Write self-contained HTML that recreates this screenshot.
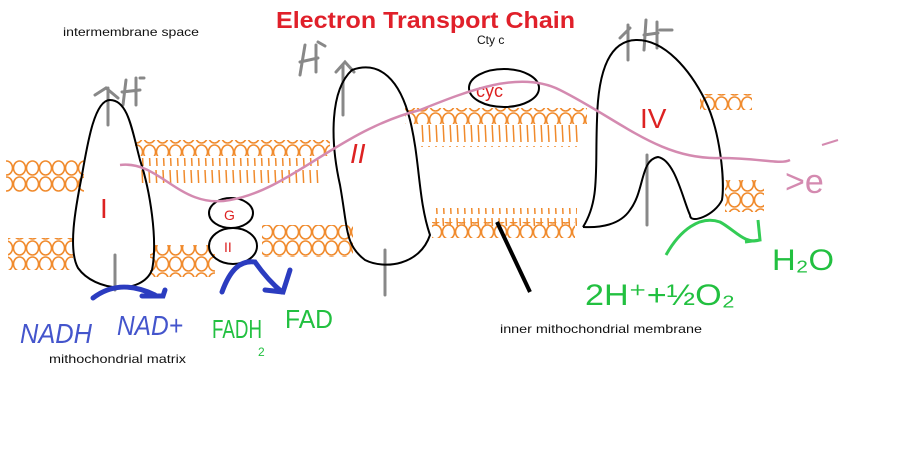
<!DOCTYPE html>
<html><head><meta charset="utf-8"><style>
html,body{margin:0;padding:0;background:#fff;}
svg{display:block;}
</style></head><body>
<svg width="902" height="460" viewBox="0 0 902 460" xmlns="http://www.w3.org/2000/svg">
<defs>
<pattern id="bead" x="0" y="0" width="13" height="16" patternUnits="userSpaceOnUse">
<ellipse cx="6.5" cy="8" rx="6" ry="7" fill="none" stroke="#f08a2c" stroke-width="1.6"/>
</pattern>
<pattern id="tail" x="0" y="0" width="7" height="24" patternUnits="userSpaceOnUse">
<path d="M2 2 L3 22" stroke="#f08a2c" stroke-width="1.5"/>
</pattern>
</defs>
<rect width="902" height="460" fill="#fff"/>

<text x="276" y="28" font-family="Liberation Sans, sans-serif" font-weight="bold" font-size="23" fill="#e0202a" textLength="299" lengthAdjust="spacingAndGlyphs">Electron Transport Chain</text>
<text x="63" y="36" font-family="Liberation Sans, sans-serif" font-size="12" fill="#111" textLength="136" lengthAdjust="spacingAndGlyphs">intermembrane space</text>
<text x="477" y="44" font-family="Liberation Sans, sans-serif" font-size="12" fill="#111">Cty c</text>
<text x="500" y="333" font-family="Liberation Sans, sans-serif" font-size="12" fill="#111" textLength="202" lengthAdjust="spacingAndGlyphs">inner mithochondrial membrane</text>
<text x="49" y="363" font-family="Liberation Sans, sans-serif" font-size="12" fill="#111" textLength="137" lengthAdjust="spacingAndGlyphs">mithochondrial matrix</text>

<rect x="6" y="160" width="78" height="32" fill="url(#bead)"/>
<rect x="135" y="140" width="195" height="16" fill="url(#bead)"/>
<rect x="140" y="158" width="180" height="25" fill="url(#tail)"/>
<rect x="405" y="108" width="182" height="16" fill="url(#bead)"/>
<rect x="420" y="125" width="160" height="22" fill="url(#tail)"/>
<rect x="700" y="94" width="52" height="16" fill="url(#bead)"/>
<rect x="725" y="180" width="39" height="32" fill="url(#bead)"/>
<rect x="8" y="238" width="65" height="32" fill="url(#bead)"/>
<rect x="150" y="245" width="65" height="32" fill="url(#bead)"/>
<rect x="262" y="225" width="91" height="32" fill="url(#bead)"/>
<rect x="432" y="208" width="145" height="18" fill="url(#tail)"/>
<rect x="432" y="222" width="143" height="16" fill="url(#bead)"/>

<g stroke="#888" stroke-width="3" fill="none" stroke-linecap="round">
<path d="M108 88 L108 125 M95 95 L106 88 L118 98"/>
<path d="M126 80 L123 105 M136 78 L136 105 M122 92 L140 90 M140 78 L144 78"/>
<path d="M305 45 L300 75 M316 45 L316 72 M300 62 L318 58 M318 42 L325 46"/>
<path d="M343 65 L343 115 M336 72 L345 62 L354 72"/>
<path d="M628 25 L628 60 M620 38 L630 28 M646 20 L644 50 M657 22 L657 48 M644 35 L658 33 M660 30 L672 30"/>
<path d="M115 255 L115 290 M385 250 L385 295 M647 155 L647 225"/>
</g>

<g stroke="#000" stroke-width="2" fill="none">
<path d="M110 100 C95 100 88 140 82 175 C75 210 68 250 78 268 C95 292 142 295 152 270 C158 240 150 190 140 160 C132 130 128 100 110 100 Z"/>
<ellipse cx="231" cy="213" rx="22" ry="15"/>
<ellipse cx="233" cy="246" rx="24" ry="18"/>
<path d="M352 70 C330 90 330 140 340 185 C348 230 345 245 365 260 C385 270 420 265 430 235 C418 200 420 160 410 120 C400 80 380 60 352 70 Z"/>
<ellipse cx="504" cy="88" rx="35" ry="19"/>
<path d="M583 227 C600 200 595 170 597 120 C598 70 610 40 637 40 C665 40 690 70 705 100 C720 130 725 180 722 200 C715 215 690 225 690 215 C683 200 675 160 658 157 C640 160 645 190 630 210 C620 225 600 228 583 227"/>
</g>
<path d="M497 222 L530 292" stroke="#000" stroke-width="4"/>

<g fill="#d22" font-family="Liberation Sans, sans-serif">
<text x="100" y="218" font-size="28">I</text>
<text x="224" y="220" font-size="14">G</text>
<text x="224" y="252" font-size="14">II</text>
<text x="350" y="163" font-size="28" font-style="italic">II</text>
<text x="476" y="97" font-size="18">cyc</text>
<text x="640" y="128" font-size="28">IV</text>
</g>

<path d="M120 165 C160 160 180 210 230 200 C290 190 340 130 420 110 C470 90 520 70 560 90 C620 120 660 160 720 158 C760 158 780 165 790 160" stroke="#d48ab0" stroke-width="2.5" fill="none"/>
<text x="785" y="193" font-family="Liberation Sans, sans-serif" font-size="34" fill="#d48ab0">&gt;e</text>
<path d="M822 145 L838 140" stroke="#d48ab0" stroke-width="2"/>

<g stroke="#2b3cc0" stroke-width="5" fill="none" stroke-linecap="round">
<path d="M93 298 C110 285 130 283 155 295"/>
<path d="M142 296 L163 296 L165 290"/>
<path d="M222 292 C230 270 240 260 255 262 C262 272 270 282 282 292"/>
<path d="M265 290 L283 292 L290 270"/>
</g>
<g fill="#4455cc" font-family="Liberation Sans, sans-serif" font-size="28" font-style="italic">
<text x="20" y="343" textLength="72" lengthAdjust="spacingAndGlyphs">NADH</text>
<text x="117" y="335" textLength="66" lengthAdjust="spacingAndGlyphs">NAD+</text>
</g>
<g fill="#22c040" font-family="Liberation Sans, sans-serif" font-size="26">
<text x="212" y="338" textLength="50" lengthAdjust="spacingAndGlyphs">FADH</text>
<text x="258" y="356" font-size="12">2</text>
<text x="285" y="328" textLength="48" lengthAdjust="spacingAndGlyphs">FAD</text>
<text x="585" y="305" font-size="30" textLength="150" lengthAdjust="spacingAndGlyphs">2H⁺+½O₂</text>
<text x="772" y="270" font-size="30" textLength="62" lengthAdjust="spacingAndGlyphs">H₂O</text>
</g>
<path d="M666 255 C680 230 700 215 720 222 C735 230 745 245 760 240 M745 242 L760 240 L758 220" stroke="#33cc55" stroke-width="3" fill="none"/>
</svg>
</body></html>
